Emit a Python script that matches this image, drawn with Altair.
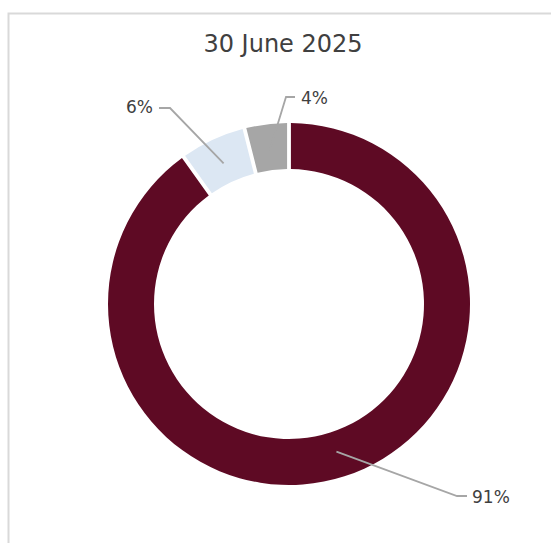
import math
import altair as alt
import pandas as pd

# ---- data ----
TITLE = "30 June 2025"
categories = ["A", "B", "C"]
values = [91, 6, 4]
colors = ["#5E0A24", "#DCE7F3", "#A6A6A6"]

# ---- style / layout constants ----
W, H = 551, 543
CX, CY = 289, 304
R_OUT, R_IN = 181, 135
R_LEADER = 155
FONT = "DejaVu Sans"
TEXT_COLOR = "#404040"
LINE_COLOR = "#A6A6A6"
# per-label annotation layout: elbow point, end of horizontal tick, text anchor, alignment
LABEL_LAYOUT = {
    "A": dict(elbow=(457, 496), end=(467, 496), text=(472, 498), align="left"),
    "B": dict(elbow=(170, 108), end=(159, 108), text=(153, 108), align="right"),
    "C": dict(elbow=(286, 97), end=(295, 97), text=(301, 99), align="left"),
}

total = sum(values)
df = pd.DataFrame({"category": categories, "value": values,
                   "idx": list(range(len(categories)))})
df["label"] = [f"{v}%" for v in values]

# leader lines: start at the slice's mid angle (clockwise from 12 o'clock)
rows = []
cum = 0
for c, v in zip(categories, values):
    mid = (cum + v / 2) / total * 2 * math.pi
    cum += v
    sx = CX + R_LEADER * math.sin(mid)
    sy = CY - R_LEADER * math.cos(mid)
    lay = LABEL_LAYOUT[c]
    pts = [(sx, sy), lay["elbow"], lay["end"]]
    for k, (px, py) in enumerate(pts):
        rows.append({"category": c, "k": k, "px": px, "py": py})
lines = pd.DataFrame(rows)

labels = df.copy()
labels["tx"] = [LABEL_LAYOUT[c]["text"][0] for c in categories]
labels["ty"] = [LABEL_LAYOUT[c]["text"][1] for c in categories]
labels["align"] = [LABEL_LAYOUT[c]["align"] for c in categories]

xs = alt.Scale(domain=[0, W], range=[0, W])
ys = alt.Scale(domain=[0, H], range=[0, H])

border = alt.Chart(pd.DataFrame({"d": [0]})).mark_rect(
    fillOpacity=0, stroke="#D9D9D9", strokeWidth=2
).encode(x=alt.value(8.5), y=alt.value(13.5), x2=alt.value(W + 20), y2=alt.value(H + 20))

title = alt.Chart(pd.DataFrame({"t": [TITLE]})).mark_text(
    font=FONT, fontSize=24, color=TEXT_COLOR, baseline="middle", align="center"
).encode(text="t:N", x=alt.value(283), y=alt.value(45))

donut = alt.Chart(df).mark_arc(
    innerRadius=R_IN, outerRadius=R_OUT, padAngle=0.017
).encode(
    theta=alt.Theta("value:Q", stack=True),
    color=alt.Color("category:N", scale=alt.Scale(domain=categories, range=colors), legend=None),
    order=alt.Order("idx:Q"),
    x=alt.value(CX),
    y=alt.value(CY),
)

leaders = alt.Chart(lines).mark_line(color=LINE_COLOR, strokeWidth=1.8).encode(
    x=alt.X("px:Q", scale=xs, axis=None),
    y=alt.Y("py:Q", scale=ys, axis=None),
    detail="category:N",
    order="k:Q",
)

text_left = alt.Chart(labels).transform_filter(alt.datum.align == "left").mark_text(
    font=FONT, fontSize=17, color=TEXT_COLOR, align="left", baseline="middle"
).encode(
    x=alt.X("tx:Q", scale=xs, axis=None),
    y=alt.Y("ty:Q", scale=ys, axis=None),
    text="label:N",
)
text_right = alt.Chart(labels).transform_filter(alt.datum.align == "right").mark_text(
    font=FONT, fontSize=17, color=TEXT_COLOR, align="right", baseline="middle"
).encode(
    x=alt.X("tx:Q", scale=xs, axis=None),
    y=alt.Y("ty:Q", scale=ys, axis=None),
    text="label:N",
)

chart = alt.layer(border, title, donut, leaders, text_left, text_right).properties(
    width=W, height=H, padding=0, background="white",
    autosize=alt.AutoSizeParams(type="none"),
).configure_view(stroke=None)

chart.save("out.html", embed_options={"renderer": "svg", "actions": False})
